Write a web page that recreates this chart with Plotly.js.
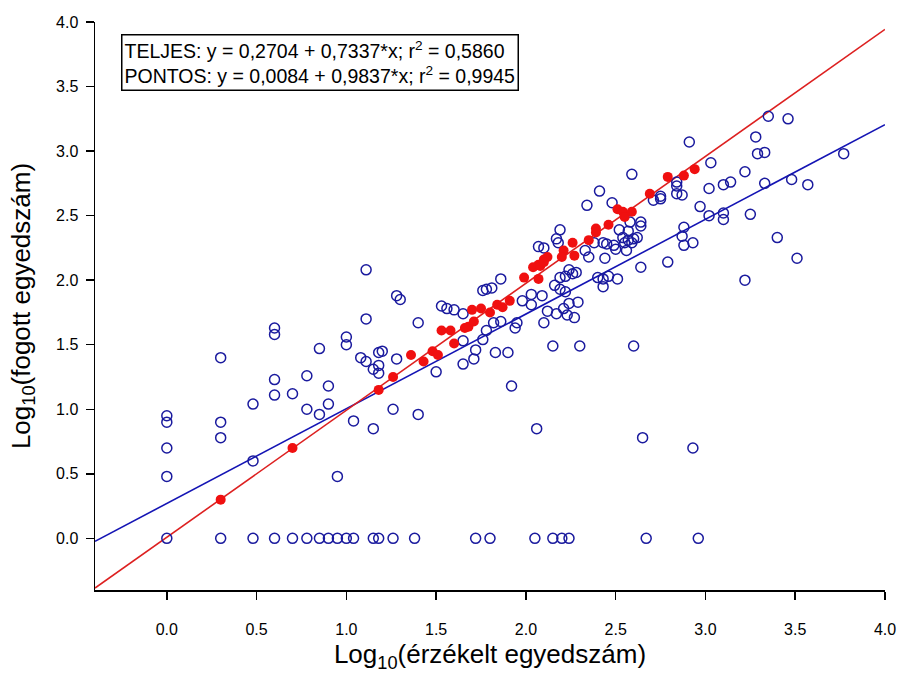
<!DOCTYPE html>
<html>
<head>
<meta charset="utf-8">
<script src="https://cdn.plot.ly/plotly-3.0.1.min.js"></script>
<style>html,body{margin:0;padding:0;background:#fff;}#chart{width:902px;height:673px;}</style>
</head>
<body>
<div id="chart"></div>
<script>
// TELJES (all observations) - open blue circles
const blueX = [
  0, 0.30, 0.48, 0.60, 0.70, 0.78, 0.85, 0.90, 0.95, 1.00, 1.04, 1.15, 1.18, 1.26, 1.38, 1.72, 1.80, 2.05, 2.15, 2.20, 2.24, 2.67, 2.96,
  0, 0, 0, 0,
  0.30, 0.30, 0.30,
  0.48, 0.48,
  0.60, 0.60, 0.60, 0.60,
  0.70,
  0.78, 0.78,
  0.85, 0.85,
  0.90, 0.90,
  0.95,
  1.00, 1.00,
  1.04,
  1.08,
  1.11, 1.11, 1.11,
  1.15, 1.15,
  1.18, 1.18, 1.18,
  1.20,
  1.26,
  1.28, 1.30, 1.28,
  1.40, 1.40,
  1.50,
  1.53, 1.56, 1.60, 1.65,
  1.65, 1.65,
  1.72, 1.71,
  1.76, 1.78, 1.82,
  1.83, 1.90,
  1.76, 1.78, 1.81,
  1.86,
  1.86,
  1.92,
  1.94, 1.95,
  1.98,
  2.03, 2.03,
  2.09,
  2.12, 2.10,
  2.17, 2.21, 2.23, 2.27,
  2.24, 2.29,
  2.16, 2.19, 2.22,
  2.19, 2.22, 2.24, 2.26, 2.28,
  2.15, 2.30, 2.60,
  2.06, 2.65, 2.93,
  2.40, 2.43, 2.43, 2.46, 2.51,
  2.33, 2.35, 2.44,
  2.38, 2.43, 2.45, 2.49, 2.50,
  2.07, 2.10,
  2.17, 2.18, 2.19,
  2.52, 2.57, 2.58, 2.64, 2.64,
  2.54, 2.57, 2.60, 2.62, 2.59, 2.55, 2.56,
  2.64, 2.79,
  2.41, 2.34, 2.48,
  2.59,
  2.84, 2.84, 2.84, 2.87,
  2.71, 2.75, 2.75,
  3.02, 3.10, 3.14,
  3.33, 3.48, 3.57,
  2.97,
  3.02, 3.10, 3.10,
  3.25,
  2.88, 2.87, 2.88, 2.93,
  3.40, 3.51, 3.22,
  2.91, 3.03,
  3.35, 3.46, 3.28, 3.29, 3.33, 3.77, 3.22
];
const blueY = [
  0, 0, 0, 0, 0, 0, 0, 0, 0, 0, 0, 0, 0, 0, 0, 0, 0, 0, 0, 0, 0, 0, 0,
  0.95, 0.90, 0.70, 0.48,
  1.40, 0.90, 0.78,
  1.04, 0.60,
  1.63, 1.58, 1.23, 1.11,
  1.12,
  1.26, 1.00,
  1.47, 0.96,
  1.18, 1.04,
  0.48,
  1.56, 1.50,
  0.91,
  1.40,
  2.08, 1.70, 1.37,
  1.31, 0.85,
  1.34, 1.28, 1.44,
  1.45,
  1.00,
  1.88, 1.85, 1.39,
  1.67, 0.96,
  1.29,
  1.80, 1.78, 1.77, 1.74,
  1.53, 1.35,
  1.46, 1.39,
  1.54, 1.61, 1.67,
  1.44, 1.44,
  1.92, 1.93, 1.94,
  2.01,
  1.68,
  1.18,
  1.63, 1.67,
  1.84,
  1.89, 1.81,
  1.88,
  1.76, 1.67,
  1.74, 1.78, 1.73, 1.71,
  1.82, 1.83,
  1.96, 1.93, 1.91,
  2.02, 2.03, 2.08, 2.05, 2.06,
  1.49, 1.49, 1.49,
  0.85, 0.78, 0.70,
  2.02, 2.01, 1.95, 2.03, 2.01,
  2.23, 2.18, 2.17,
  2.29, 2.29, 2.28, 2.27, 2.24,
  2.26, 2.25,
  2.32, 2.29, 2.39,
  2.39, 2.38, 2.45, 2.45, 2.42,
  2.33, 2.31, 2.32, 2.33, 2.29, 2.29, 2.23,
  2.10, 2.14,
  2.69, 2.58, 2.60,
  2.82,
  2.76, 2.73, 2.67, 2.66,
  2.62, 2.63, 2.65,
  2.71, 2.74, 2.76,
  2.75, 2.78, 2.74,
  2.57,
  2.50, 2.52, 2.47,
  2.51,
  2.41, 2.34, 2.27, 2.29,
  2.33, 2.17, 2.00,
  3.07, 2.91,
  3.27, 3.25, 3.11, 2.98, 2.99, 2.98, 2.84
];
// PONTOS (exact observations) - filled red dots
const redX = [0.30, 0.70, 1.18, 1.26, 1.36, 1.43, 1.48, 1.51, 1.53, 1.58, 1.60, 1.66, 1.68, 1.71, 1.70, 1.75, 1.80, 1.84, 1.87, 1.91,
  1.99, 2.07, 2.04, 2.07, 2.10, 2.12, 2.08, 2.10, 2.21, 2.20, 2.26, 2.27, 2.35, 2.39, 2.39, 2.46, 2.51, 2.54, 2.55, 2.59, 2.69, 2.79, 2.88, 2.94];
const redY = [0.30, 0.70, 1.15, 1.25, 1.42, 1.37, 1.45, 1.42, 1.61, 1.61, 1.51, 1.63, 1.64, 1.68, 1.77, 1.78, 1.75, 1.81, 1.79, 1.84,
  2.02, 2.01, 2.10, 2.12, 2.16, 2.18, 2.11, 2.14, 2.23, 2.18, 2.29, 2.19, 2.31, 2.40, 2.37, 2.43, 2.55, 2.53, 2.49, 2.53, 2.67, 2.80, 2.81, 2.86];
// regression coefficients (from the chart's text box)
const fitTeljes = {a: 0.2704, b: 0.7337, r2: 0.5860};
const fitPontos = {a: 0.0084, b: 0.9837, r2: 0.9945};
const lineX = [-0.4, 4.0];
const tickVals = [0, 0.5, 1, 1.5, 2, 2.5, 3, 3.5, 4];
const tickText = ['0.0', '0.5', '1.0', '1.5', '2.0', '2.5', '3.0', '3.5', '4.0'];

const FONT = 'Arial, "Liberation Sans", sans-serif';

const traces = [
  {x: lineX, y: lineX.map(v => fitTeljes.a + fitTeljes.b * v), mode: 'lines',
   line: {color: '#1414b4', width: 1.6}, hoverinfo: 'skip'},
  {x: lineX, y: lineX.map(v => fitPontos.a + fitPontos.b * v), mode: 'lines',
   line: {color: '#dd2020', width: 1.6}, hoverinfo: 'skip'},
  {x: blueX, y: blueY, mode: 'markers', type: 'scatter',
   marker: {symbol: 'circle-open', size: 10, color: '#1a1a9e', line: {width: 1.5, color: '#1a1a9e'}}},
  {x: redX, y: redY, mode: 'markers', type: 'scatter',
   marker: {symbol: 'circle', size: 10, color: '#f01010'}}
];

function fmt(v) { return v.toFixed(4).replace('.', ','); }

const boxText = 'TELJES: y = ' + fmt(fitTeljes.a) + ' + ' + fmt(fitTeljes.b) + '*x; r<sup>2</sup> = ' + fmt(fitTeljes.r2) +
  '<br>PONTOS: y = ' + fmt(fitPontos.a) + ' + ' + fmt(fitPontos.b) + '*x; r<sup>2</sup> = ' + fmt(fitPontos.r2);

const layout = {
  width: 902, height: 673,
  margin: {l: 95, r: 17, t: 22, b: 83},
  paper_bgcolor: '#fff', plot_bgcolor: '#fff',
  showlegend: false,
  font: {family: FONT, color: '#000'},
  xaxis: {
    range: [-0.4, 4.0], tickvals: tickVals, ticktext: tickText,
    showgrid: false, zeroline: false, showline: true, linecolor: '#000', linewidth: 1.5,
    ticks: 'outside', ticklen: 8, tickwidth: 1.5, tickcolor: '#000',
    tickfont: {size: 16, family: FONT}, ticklabelstandoff: 16,
    title: {text: 'Log<sub>10</sub>(érzékelt egyedszám)', font: {size: 26, family: FONT}, standoff: 8}
  },
  yaxis: {
    range: [-0.4, 4.0], tickvals: tickVals, ticktext: tickText,
    showgrid: false, zeroline: false, showline: true, linecolor: '#000', linewidth: 1.5,
    ticks: 'outside', ticklen: 8, tickwidth: 1.5, tickcolor: '#000',
    tickfont: {size: 16, family: FONT}, ticklabelstandoff: 4,
    title: {text: 'Log<sub>10</sub>(fogott egyedszám)', font: {size: 26, family: FONT}, standoff: 18}
  },
  annotations: [{
    xref: 'paper', yref: 'paper', x: 0.033, y: 0.979, xanchor: 'left', yanchor: 'top',
    text: boxText, showarrow: false, align: 'left',
    font: {size: 19.5, family: FONT, color: '#000'},
    bordercolor: '#000', borderwidth: 1.5, borderpad: 2, bgcolor: '#fff'
  }]
};

Plotly.newPlot('chart', traces, layout, {displayModeBar: false, staticPlot: true});
</script>
</body>
</html>
